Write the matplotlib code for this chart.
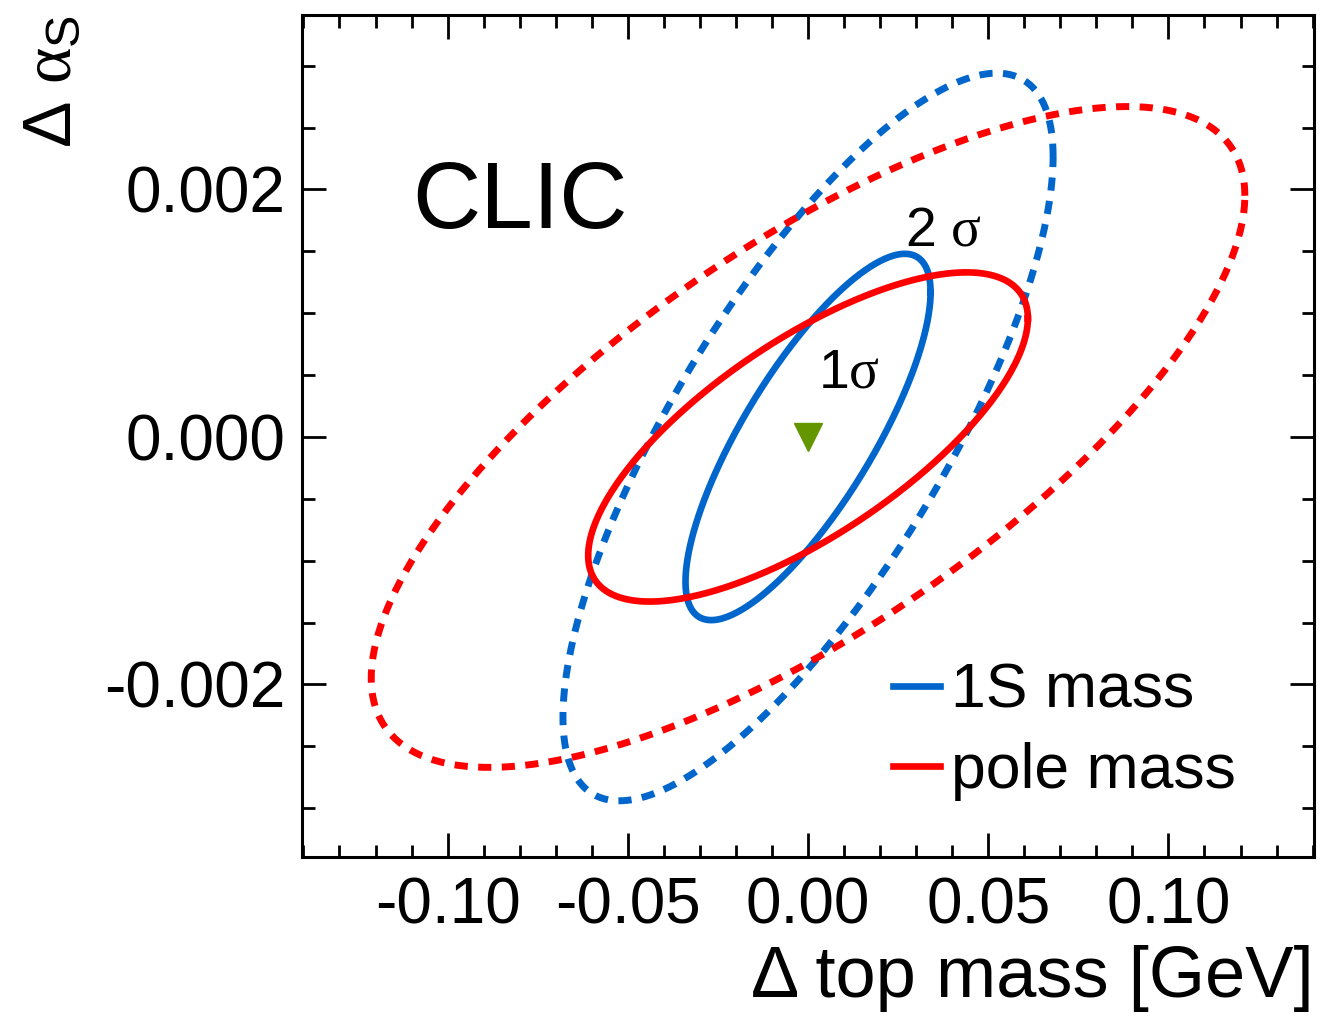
import numpy as np
import matplotlib
matplotlib.use("Agg")
import matplotlib.pyplot as plt
from matplotlib.ticker import MultipleLocator, FormatStrFormatter

plt.rcParams['font.family'] = ['Liberation Sans', 'DejaVu Sans']
plt.rcParams['mathtext.fontset'] = 'custom'
plt.rcParams['mathtext.rm'] = 'Liberation Sans'
plt.rcParams['mathtext.it'] = 'Liberation Serif'
plt.rcParams['axes.unicode_minus'] = False

# contour half-widths (top mass, alpha_s) and correlation
schemes = ["1S mass", "pole mass"]
colors = ["#0066cc", "#ff0000"]
half_dm_1sig = [0.034, 0.061]
half_das_1sig = [0.00148, 0.00133]
rho_1sig = [0.79, 0.72]
half_dm_2sig = [0.068, 0.1212]
half_das_2sig = [0.00294, 0.00267]
rho_2sig = [0.77, 0.73]
center = (0.0, 0.0)


def ellipse(ax_w, ay_w, rho):
    t = np.linspace(0, 2 * np.pi, 400)
    x = center[0] + ax_w * np.cos(t)
    y = center[1] + ay_w * (rho * np.cos(t) + np.sqrt(1 - rho**2) * np.sin(t))
    return x, y


fig = plt.figure(figsize=(13.2, 10.19), dpi=100)
ax = fig.add_axes([0.2288, 0.159, 0.7667, 0.8263])

for i, name in enumerate(schemes):
    x, y = ellipse(half_dm_2sig[i], half_das_2sig[i], rho_2sig[i])
    ax.plot(x, y, color=colors[i], lw=5.0, dashes=(1.9, 1.5))
for i, name in enumerate(schemes):
    x, y = ellipse(half_dm_1sig[i], half_das_1sig[i], rho_1sig[i])
    ax.plot(x, y, color=colors[i], lw=4.8, label=name)

ax.plot([center[0]], [center[1]], marker='v', ms=19.5, color='#649600', ls='none')

ax.set_xlim(-0.1404, 0.1404)
ax.set_ylim(-0.003394, 0.00341)

ax.xaxis.set_major_locator(MultipleLocator(0.05))
ax.xaxis.set_minor_locator(MultipleLocator(0.01))
ax.yaxis.set_major_locator(MultipleLocator(0.002))
ax.yaxis.set_minor_locator(MultipleLocator(0.0005))
ax.xaxis.set_major_formatter(FormatStrFormatter('%.2f'))
ax.yaxis.set_major_formatter(FormatStrFormatter('%.3f'))

ax.tick_params(which='both', direction='in', top=True, right=True, width=2.0,
               labelsize=46)
ax.tick_params(which='major', length=17)
ax.tick_params(which='minor', length=9)
ax.tick_params(axis='x', which='major', pad=14)
ax.tick_params(axis='y', which='major', pad=12)
for s in ax.spines.values():
    s.set_linewidth(2.2)

ax.set_xlabel('Δ top mass [GeV]', fontsize=52, ha='right')
ax.xaxis.set_label_coords(1.0, -0.104)
ax.set_ylabel(r'$\Delta\ \alpha_{\mathrm{S}}$', fontsize=50, ha='right')
ax.yaxis.set_label_coords(-0.215, 1.0)

ax.text(-0.1098, 0.00169, 'CLIC', fontsize=68)
ax.text(0.0269, 0.00155, r'$\mathrm{2}\ \sigma$', fontsize=40)
ax.text(0.0028, 0.0004, r'$\mathrm{1}\sigma$', fontsize=40)

ax.legend(loc='upper left', bbox_to_anchor=(0.584, 0.232), frameon=False,
          fontsize=45, handlelength=0.75, handletextpad=0.18, labelspacing=0.34,
          borderpad=0, borderaxespad=0)

fig.savefig('out.png', dpi=100)
